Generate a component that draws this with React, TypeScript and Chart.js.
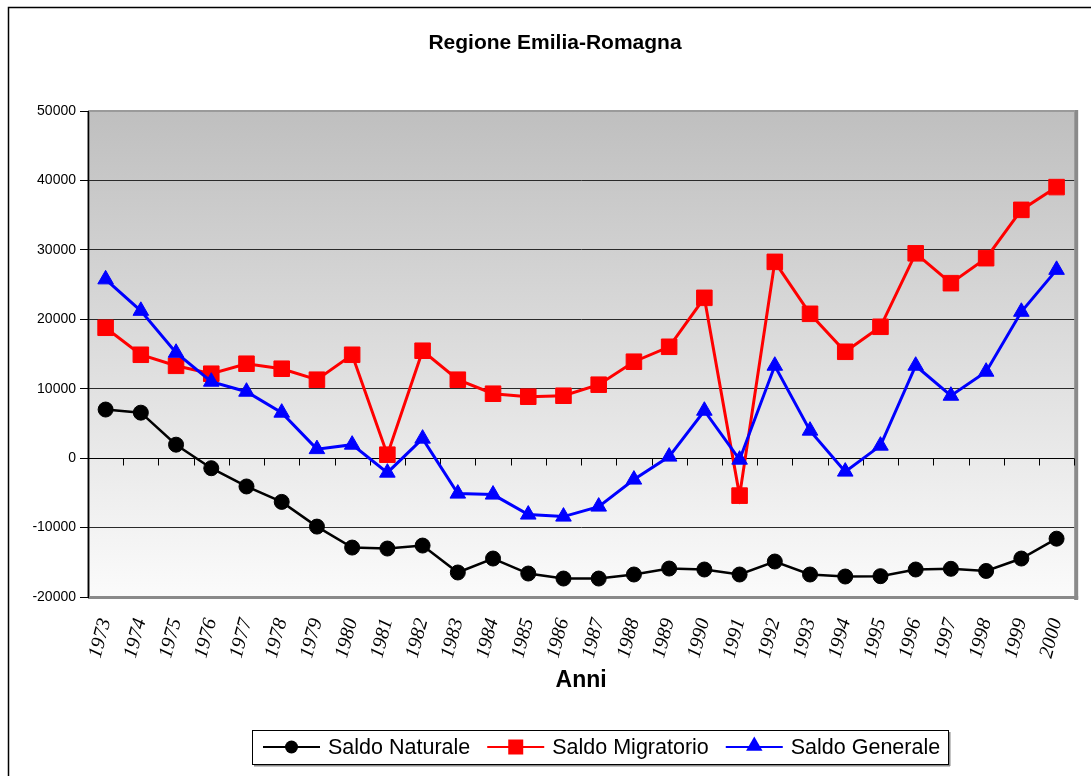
import React, { useEffect, useRef } from 'react';
import { Chart, registerables } from 'chart.js';

Chart.register(...registerables);

const chartTitle = 'Regione Emilia-Romagna';
const xAxisTitle = 'Anni';

const years = [
  '1973', '1974', '1975', '1976', '1977', '1978', '1979', '1980', '1981', '1982',
  '1983', '1984', '1985', '1986', '1987', '1988', '1989', '1990', '1991', '1992',
  '1993', '1994', '1995', '1996', '1997', '1998', '1999', '2000',
];

const saldoNaturale = [
  7000, 6550, 1940, -1450, -4080, -6300, -9860, -12880, -13020, -12590,
  -16470, -14460, -16620, -17340, -17340, -16760, -15900, -16040, -16760, -14890,
  -16760, -17050, -17000, -16040, -15940, -16250, -14460, -11600,
];

const saldoMigratorio = [
  18780, 14890, 13300, 12160, 13600, 12880, 11300, 14890, 500, 15470,
  11300, 9280, 8850, 8990, 10580, 13890, 16040, 23090, -5400, 28270,
  20790, 15320, 18920, 29500, 25200, 28800, 35760, 39040,
];

const saldoGenerale = [
  25750, 21220, 15180, 11010, 9570, 6550, 1300, 1940, -2090, 2810,
  -5110, -5250, -8130, -8420, -6980, -3090, 220, 6830, -220, 13310,
  3960, -1940, 1800, 13310, 8990, 12450, 21080, 27120,
];

const yMin = -20000;
const yMax = 50000;
const yStep = 10000;

const seriesLabels = ['Saldo Naturale', 'Saldo Migratorio', 'Saldo Generale'];
const seriesColors = ['#000000', '#ff0000', '#0000ff'];

const FONT = '"Liberation Sans", Arial, sans-serif';

function drawMarker(ctx: CanvasRenderingContext2D, style: string, x: number, y: number, size: number, color: string) {
  ctx.fillStyle = color;
  ctx.beginPath();
  if (style === 'circle') {
    ctx.arc(x, y, size, 0, Math.PI * 2);
  } else if (style === 'rect') {
    ctx.rect(x - size, y - size, size * 2, size * 2);
  } else {
    ctx.moveTo(x, y - size);
    ctx.lineTo(x + size * 0.866, y + size * 0.5);
    ctx.lineTo(x - size * 0.866, y + size * 0.5);
    ctx.closePath();
  }
  ctx.fill();
}

const backgroundPlugin = {
  id: 'backgroundPlugin',
  beforeDraw(chart: any) {
    const { ctx, chartArea: a, width, height } = chart;
    ctx.save();
    ctx.fillStyle = '#ffffff';
    ctx.fillRect(0, 0, width, height);
    // outer frame
    ctx.strokeStyle = '#000000';
    ctx.lineWidth = 1.5;
    ctx.beginPath();
    ctx.moveTo(8.5, height + 5);
    ctx.lineTo(8.5, 7.5);
    ctx.lineTo(width + 5, 7.5);
    ctx.stroke();
    // plot area gradient
    const g = ctx.createLinearGradient(0, a.top, 0, a.bottom);
    g.addColorStop(0, '#bfbfbf');
    g.addColorStop(1, '#fbfbfb');
    ctx.fillStyle = g;
    ctx.fillRect(a.left, a.top, a.right - a.left, a.bottom - a.top);
    // plot area border
    ctx.fillStyle = '#8a8a8a';
    ctx.fillRect(a.left - 1, a.top, 3, a.bottom - a.top);
    ctx.fillRect(a.right, a.top - 1, 4, a.bottom - a.top + 4);
    ctx.fillRect(a.left, a.bottom - 1, a.right - a.left + 4, 3);
    ctx.fillStyle = '#9a9a9a';
    ctx.fillRect(a.left, a.top - 1, a.right - a.left, 2);
    ctx.restore();
  },
  beforeDatasetsDraw(chart: any) {
    const { ctx, chartArea: a } = chart;
    const xs = chart.scales.x;
    const ys = chart.scales.y;
    const y0 = Math.round(ys.getPixelForValue(0)) + 0.5;
    const n = xs.getLabels().length;
    const w = (a.right - a.left) / n;
    ctx.save();
    ctx.strokeStyle = '#000000';
    ctx.lineWidth = 1;
    ctx.beginPath();
    ctx.moveTo(a.left, y0);
    ctx.lineTo(a.right, y0);
    for (let i = 0; i <= n; i++) {
      const xi = Math.round(a.left + i * w) + 0.5;
      ctx.moveTo(xi, y0);
      ctx.lineTo(xi, y0 + 7);
    }
    ctx.stroke();
    ctx.restore();
  },
  afterDraw(chart: any) {
    const { ctx } = chart;
    ctx.save();
    // title
    ctx.fillStyle = '#000000';
    ctx.font = 'bold 21px ' + FONT;
    ctx.textAlign = 'center';
    ctx.textBaseline = 'alphabetic';
    ctx.fillText(chartTitle, 555, 48.5);

    // legend
    const bx = 252, by = 730, bw = 696, bh = 34;
    ctx.fillStyle = '#ffffff';
    ctx.fillRect(bx, by, bw, bh);
    ctx.fillStyle = '#8a8a8a';
    ctx.fillRect(bx + 2, by + bh + 1, bw, 1.5);
    ctx.fillRect(bx + bw + 1, by + 2, 1.5, bh);
    ctx.strokeStyle = '#000000';
    ctx.lineWidth = 1;
    ctx.strokeRect(bx + 0.5, by + 0.5, bw, bh);

    ctx.font = '21.5px ' + FONT;
    ctx.textAlign = 'left';
    let x = 263;
    const ly = 747;
    chart.data.datasets.forEach((ds: any) => {
      ctx.strokeStyle = ds.borderColor;
      ctx.lineWidth = 2;
      ctx.beginPath();
      ctx.moveTo(x, ly);
      ctx.lineTo(x + 57, ly);
      ctx.stroke();
      const st = ds.pointStyle;
      const sz = st === 'circle' ? 6.5 : st === 'rect' ? 7.5 : 9.5;
      drawMarker(ctx, st, x + 28.5, st === 'triangle' ? ly - 1 : ly, sz, ds.borderColor);
      ctx.fillStyle = '#000000';
      ctx.fillText(ds.label, x + 65, 754);
      x += 65 + ctx.measureText(ds.label).width + 17;
    });
    ctx.restore();
  },
};

export default function App() {
  const canvasRef = useRef<HTMLCanvasElement | null>(null);

  useEffect(() => {
    const canvas = canvasRef.current;
    if (!canvas) return;
    const chart = new Chart(canvas, {
      type: 'line',
      data: {
        labels: years,
        datasets: [
          {
            label: seriesLabels[0],
            data: saldoNaturale,
            borderColor: seriesColors[0],
            backgroundColor: seriesColors[0],
            borderWidth: 2.5,
            pointStyle: 'circle',
            pointRadius: 7.5,
            pointBorderWidth: 1,
            tension: 0,
            order: 3,
          },
          {
            label: seriesLabels[1],
            data: saldoMigratorio,
            borderColor: seriesColors[1],
            backgroundColor: seriesColors[1],
            borderWidth: 3,
            pointStyle: 'rect',
            pointRadius: 11,
            pointBorderWidth: 1,
            tension: 0,
            order: 2,
          },
          {
            label: seriesLabels[2],
            data: saldoGenerale,
            borderColor: seriesColors[2],
            backgroundColor: seriesColors[2],
            borderWidth: 3,
            pointStyle: 'triangle',
            pointRadius: 9,
            pointBorderWidth: 1,
            tension: 0,
            order: 1,
          },
        ],
      },
      options: {
        animation: false,
        responsive: false,
        devicePixelRatio: 1,
        layout: { padding: { left: 0, top: 111, right: 14, bottom: 82 } },
        plugins: {
          legend: { display: false },
          title: { display: false },
          tooltip: { enabled: false },
        },
        scales: {
          x: {
            type: 'category',
            offset: true,
            grid: { display: false },
            border: { display: false },
            ticks: {
              autoSkip: false,
              minRotation: 75,
              maxRotation: 75,
              padding: 11,
              color: '#000000',
              font: { family: '"Liberation Serif", "Times New Roman", serif', size: 20, style: 'italic' },
            },
            title: {
              display: true,
              text: xAxisTitle,
              color: '#000000',
              padding: { top: 0, bottom: 0 },
              font: { family: FONT, size: 23, weight: 'bold' },
            },
            afterFit(scale: any) {
              scale.height = 97;
            },
          },
          y: {
            min: yMin,
            max: yMax,
            grid: {
              color: (c: any) =>
                c.tick && (c.tick.value === yMin || c.tick.value === yMax) ? 'rgba(0,0,0,0)' : '#2a2a2a',
              tickColor: '#000000',
              tickLength: 8,
              lineWidth: 1,
            },
            border: { display: true, color: '#000000', width: 1 },
            ticks: {
              stepSize: yStep,
              padding: 4,
              color: '#000000',
              font: { family: FONT, size: 14 },
              callback: (v: any) => String(v),
            },
            afterFit(scale: any) {
              scale.width = 88;
            },
          },
        },
      },
      plugins: [backgroundPlugin],
    } as any);
    return () => chart.destroy();
  }, []);

  return (
    <div style={{ position: 'absolute', left: 0, top: 0, width: 1091, height: 776 }}>
      <canvas ref={canvasRef} width={1091} height={776} style={{ width: 1091, height: 776, display: 'block' }} />
    </div>
  );
}
